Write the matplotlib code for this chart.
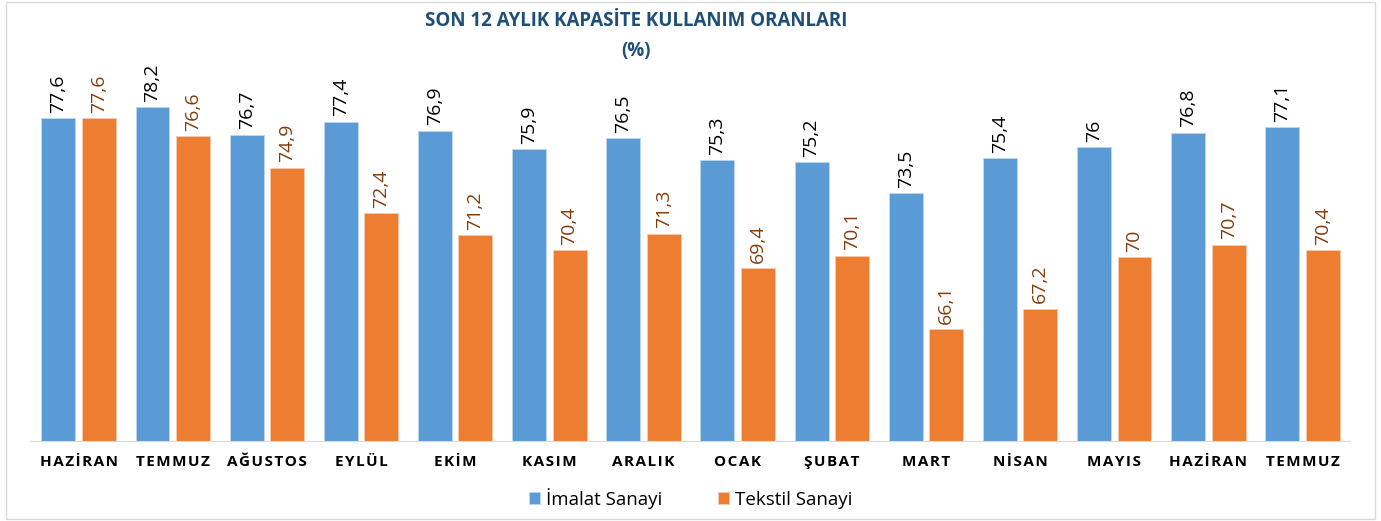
import matplotlib.pyplot as plt
import numpy as np

# Datos
aylar = ['HAZİRAN', 'TEMMUZ', 'AĞUSTOS', 'EYLÜL', 'EKİM', 'KASIM', 'ARALIK',
         'OCAK', 'ŞUBAT', 'MART', 'NİSAN', 'MAYIS', 'HAZİRAN', 'TEMMUZ']
imalat = [77.6, 78.2, 76.7, 77.4, 76.9, 75.9, 76.5, 75.3, 75.2, 73.5, 75.4, 76, 76.8, 77.1]
tekstil = [77.6, 76.6, 74.9, 72.4, 71.2, 70.4, 71.3, 69.4, 70.1, 66.1, 67.2, 70, 70.7, 70.4]

mavi = '#5B9BD5'
turuncu = '#ED7D31'

plt.rcParams['font.family'] = ['Open Sans', 'DejaVu Sans']

fig = plt.figure(figsize=(13.81, 5.21), dpi=100)
ax = fig.add_axes([0.0228, 0.1536, 0.9545, 0.7044])

x = np.arange(len(aylar))
w = 0.36
off = 0.215

b1 = ax.bar(x - off, imalat, w, color=mavi, edgecolor='#BDD7EE', linewidth=0.6, label='İmalat Sanayi')
b2 = ax.bar(x + off, tekstil, w, color=turuncu, edgecolor='#F8CBAD', linewidth=0.6, label='Tekstil Sanayi')

ax.set_ylim(60, 80)
ax.set_xlim(-0.5, len(aylar) - 0.5)

def etiket(v):
    return ('%g' % v).replace('.', ',')

# etiquetas verticales sobre cada barra (giradas sobre su punto de anclaje)
for serie, dx, col in [(imalat, -off, 'black'), (tekstil, off, '#843C0C')]:
    for xi, v in zip(x, serie):
        ax.text(xi + dx, v + 0.3, etiket(v), rotation=90, rotation_mode='anchor',
                ha='left', va='center', fontsize=14, color=col, clip_on=False)

ax.set_yticks([])
ax.set_xticks(x)
ax.set_xticklabels(['\u200a'.join(a) for a in aylar], fontsize=11, fontweight='bold', color='black')
ax.tick_params(axis='x', length=0, pad=10)
for s in ['top', 'right', 'left']:
    ax.spines[s].set_visible(False)
ax.spines['bottom'].set_color('#D9D9D9')

fig.text(0.4605, 0.96, 'SON 12 AYLIK KAPASİTE KULLANIM ORANLARI', ha='center', va='center',
         fontsize=13.5, fontweight='bold', color='#1F4E79')
fig.text(0.4605, 0.903, '(%)', ha='center', va='center', fontsize=13.5, fontweight='bold', color='#1F4E79')

fig.legend(handles=[b1, b2], loc='center', bbox_to_anchor=(0.5, 0.044), ncol=2, frameon=False,
           fontsize=13.5, handlelength=0.6, handleheight=0.6, handletextpad=0.3, columnspacing=3)

# marco del grafico
fig.patches.append(plt.Rectangle((0.004, 0.004), 0.992, 0.992, transform=fig.transFigure,
                                 fill=False, edgecolor='#D9D9D9', linewidth=1))

fig.savefig('out.png', dpi=100)
